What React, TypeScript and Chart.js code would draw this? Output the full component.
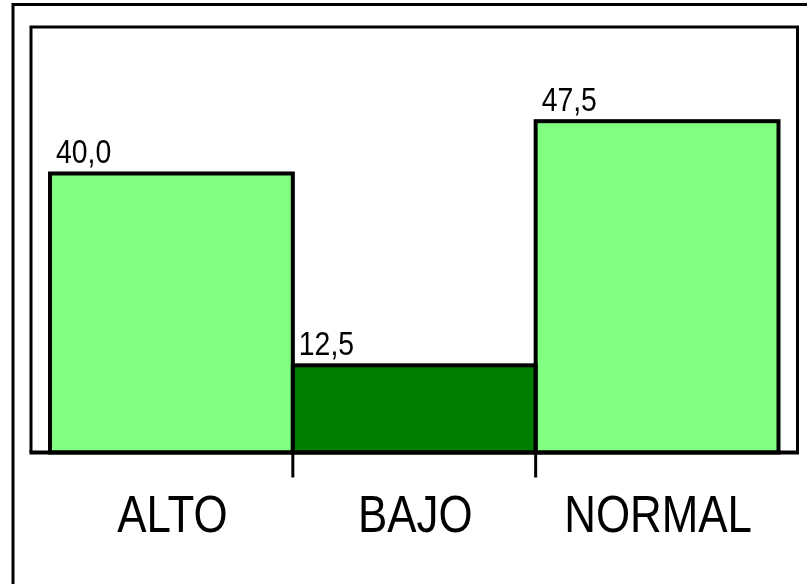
import React, { useEffect, useRef } from "react";
import { Chart, registerables } from "chart.js";

Chart.register(...registerables);

// Categories and their percentages
const categories: string[] = ["ALTO", "BAJO", "NORMAL"];
const values: number[] = [40.0, 12.5, 47.5];
const barColors: string[] = ["#80FF80", "#008000", "#80FF80"];
const yMax = 61;

const FONT = '"Liberation Sans", Arial, sans-serif';
const SQUEEZE = 0.86; // narrow lettering

const fmt = (v: number) => v.toFixed(1).replace(".", ",");

function narrowText(ctx: CanvasRenderingContext2D, text: string, x: number, y: number) {
  ctx.save();
  ctx.translate(x, y);
  ctx.scale(SQUEEZE, 1);
  ctx.fillText(text, 0, 0);
  ctx.restore();
}

// Draws the outer frame, the plot box, bar outlines, axis ticks and all text
const framePlugin = {
  id: "framePlugin",
  afterDatasetsDraw(chart: any) {
    const { ctx, chartArea } = chart;
    const xScale = chart.scales.x;
    const meta = chart.getDatasetMeta(0);
    ctx.save();
    ctx.strokeStyle = "#000";

    // outer frame (runs off the right and bottom of the canvas)
    ctx.lineWidth = 3;
    ctx.strokeRect(13, 4.5, 900, 700);

    // plot box, widened beyond the category band
    const side = 19;
    ctx.lineWidth = 3;
    ctx.beginPath();
    ctx.moveTo(chartArea.left - side, chartArea.bottom);
    ctx.lineTo(chartArea.left - side, chartArea.top);
    ctx.lineTo(chartArea.right + side, chartArea.top);
    ctx.lineTo(chartArea.right + side, chartArea.bottom);
    ctx.stroke();

    // bar outlines
    ctx.lineWidth = 4;
    meta.data.forEach((bar: any) => {
      const { x, y, base, width } = bar.getProps(["x", "y", "base", "width"], true);
      ctx.strokeRect(x - width / 2, y, width, base - y);
    });

    // category axis line
    ctx.lineWidth = 4;
    ctx.beginPath();
    ctx.moveTo(chartArea.left - side - 1.5, chartArea.bottom);
    ctx.lineTo(chartArea.right + side + 1.5, chartArea.bottom);
    ctx.stroke();

    // tick marks between neighbouring categories
    ctx.lineWidth = 3;
    for (let i = 1; i < categories.length; i++) {
      const xb = (xScale.getPixelForValue(i - 1) + xScale.getPixelForValue(i)) / 2;
      ctx.beginPath();
      ctx.moveTo(xb, chartArea.bottom);
      ctx.lineTo(xb, chartArea.bottom + 25);
      ctx.stroke();
    }

    ctx.fillStyle = "#000";
    ctx.textBaseline = "alphabetic";

    // category labels
    ctx.font = `51px ${FONT}`;
    ctx.textAlign = "center";
    categories.forEach((c, i) => {
      narrowText(ctx, c, xScale.getPixelForValue(i) + 1, chartArea.bottom + 79);
    });

    // value labels
    ctx.font = `33px ${FONT}`;
    ctx.textAlign = "left";
    meta.data.forEach((bar: any, i: number) => {
      const { x, y, width } = bar.getProps(["x", "y", "width"], true);
      narrowText(ctx, fmt(values[i]), x - width / 2 + 6, y - 10);
    });
    ctx.restore();
  },
};

export default function App() {
  const canvasRef = useRef<HTMLCanvasElement | null>(null);

  useEffect(() => {
    if (!canvasRef.current) return;
    const chart = new Chart(canvasRef.current, {
      type: "bar",
      data: {
        labels: categories,
        datasets: [
          {
            data: values,
            backgroundColor: barColors,
            borderWidth: 0,
            categoryPercentage: 1,
            barPercentage: 1,
          },
        ],
      },
      options: {
        responsive: false,
        animation: false,
        events: [],
        layout: { padding: { left: 50, right: 28.5, top: 27, bottom: 131.5 } },
        plugins: { legend: { display: false }, tooltip: { enabled: false } },
        scales: {
          x: { display: false, offset: true },
          y: { display: false, min: 0, max: yMax },
        },
      },
      plugins: [framePlugin],
    });
    return () => chart.destroy();
  }, []);

  return (
    <div style={{ position: "fixed", left: 0, top: 0, width: 807, height: 584, background: "#fff" }}>
      <canvas ref={canvasRef} width={807} height={584} />
    </div>
  );
}
